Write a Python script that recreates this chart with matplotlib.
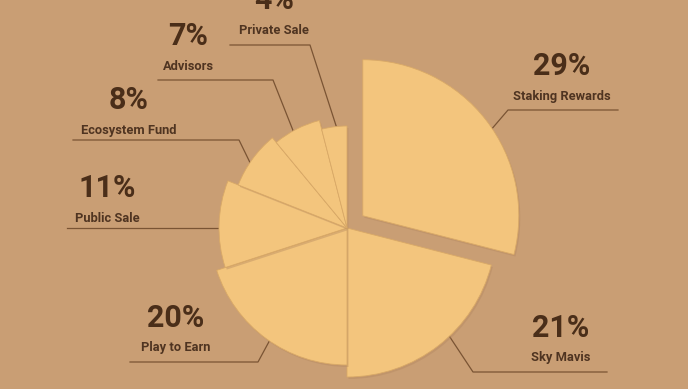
import numpy as np
import matplotlib
matplotlib.use("Agg")
import matplotlib.pyplot as plt
from matplotlib.patches import Wedge

# token allocation, clockwise from 12 o'clock
labels = ["Staking Rewards", "Sky Mavis", "Play to Earn", "Public Sale",
          "Ecosystem Fund", "Advisors", "Private Sale"]
shares = [29, 21, 20, 11, 8, 7, 4]

# layout (pixels, y measured up from the bottom)
W, H = 688, 389
cx, cy = 347, 161
radii = [156, 149, 137, 128, 117, 111, 102]
explode = [20, 0, 0, 0, 0, 0, 0]
# where the leader line meets each slice (angle in degrees, on the rim)
touch_ang = [34, -46.6, -124.5, 180, 146, 119, 96]
# elbow and end of each leader line, text centre
elbows = [(508, 279), (473, 17), (258, 27), None, (239, 249), (273, 309), (310, 344)]
ends = [(618, 279), (607, 17), (130, 27), (67, 161), (73, 249), (158, 309), (230, 344)]
text_pos = [(562, 323), (561, 61), (176, 71), (107, 201), (129, 289), (188, 353), (274, 389)]

bg = "#C99E74"
slice_col = "#F3C57D"
shadow_col = "#D9A967"
pct_col = "#4A2E19"
lab_col = "#4F3421"
line_col = "#7A5434"

fig = plt.figure(figsize=(W / 100, H / 100), dpi=100)
fig.patch.set_facecolor(bg)
ax = fig.add_axes([0, 0, 1, 1])
ax.set_xlim(0, W)
ax.set_ylim(0, H)
ax.set_facecolor(bg)
ax.axis("off")

start = 90.0
for i, (lab, v) in enumerate(zip(labels, shares)):
    t2 = start
    t1 = start - v * 3.6
    start = t1
    mid = np.radians((t1 + t2) / 2)
    ox = cx + explode[i] * np.cos(mid)
    oy = cy + explode[i] * np.sin(mid)
    r = radii[i]
    # soft shadow
    ax.add_patch(Wedge((ox + 1.5, oy - 2), r, t1, t2, facecolor="#B3875E",
                       edgecolor="none", alpha=0.4, zorder=2 + i * 0.1))
    ax.add_patch(Wedge((ox, oy), r, t1, t2, facecolor=slice_col,
                       edgecolor=shadow_col, linewidth=0.6, zorder=2.05 + i * 0.1))

    a = np.radians(touch_ang[i])
    px, py = ox + r * np.cos(a), oy + r * np.sin(a)
    xs, ys = [px], [py]
    if elbows[i] is not None:
        xs.append(elbows[i][0]); ys.append(elbows[i][1])
    xs.append(ends[i][0]); ys.append(ends[i][1])
    ax.plot(xs, ys, color=line_col, lw=0.9, zorder=1)

    tx, ty = text_pos[i]
    ax.text(tx, ty, f"{v}%", ha="center", va="center", fontsize=22,
            fontweight="bold", color=pct_col, family="Roboto", zorder=5)
    ax.text(tx, ty - 30, lab, ha="center", va="center", fontsize=9.3,
            fontweight="bold", color=lab_col, family="Roboto", zorder=5)

fig.savefig("out.png", dpi=100, facecolor=bg)
